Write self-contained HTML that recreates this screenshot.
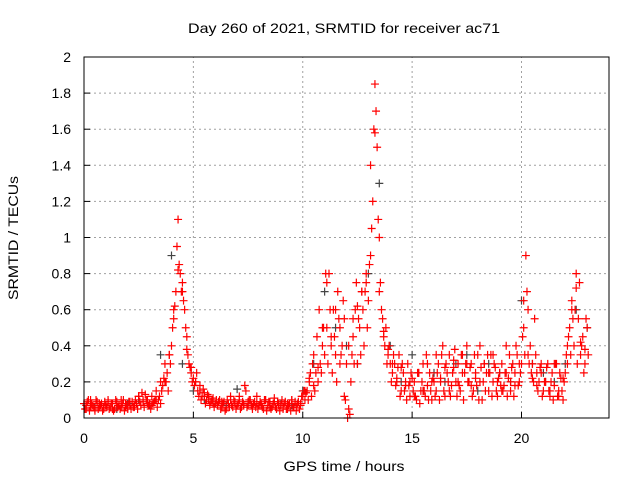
<!DOCTYPE html>
<html><head><meta charset="utf-8"><style>
body{margin:0;background:#fff;font-family:"Liberation Sans",sans-serif}
svg text{font-family:"Liberation Sans",sans-serif;font-size:14px;fill:#000}
</style></head><body>
<svg id="chart" width="640" height="480">
<text x="344" y="33" text-anchor="middle" textLength="312" lengthAdjust="spacingAndGlyphs">Day 260 of 2021, SRMTID for receiver ac71</text>
<text x="344" y="471" text-anchor="middle" textLength="121" lengthAdjust="spacingAndGlyphs">GPS time / hours</text>
<text transform="translate(18,238) rotate(-90)" text-anchor="middle" textLength="124" lengthAdjust="spacingAndGlyphs">SRMTID / TECUs</text>
<g id="grid"></g><g id="marks"></g>
<rect x="84" y="57" width="525" height="361" fill="none" stroke="#000"/>
</svg>
<script>
const xTicks=[0,5,10,15,20];
const yTicks=[0,0.2,0.4,0.6,0.8,1,1.2,1.4,1.6,1.8,2];
const yTickLabels=["0","0.2","0.4","0.6","0.8","1","1.2","1.4","1.6","1.8","2"];
const redA=[0.08,0.05,0.1,0.06,0.07,0.04,0.09,0.06,0.08,0.05,0.07,0.1,0.06,0.08,0.05,0.09,0.07,0.06,0.1,0.08,0.05,0.07,0.09,0.06,0.08,0.12,0.07,0.09,0.13,0.1,0.08,
0.12,0.09,0.15,0.1,0.2,0.18,0.3,0.25,0.35,0.4,
0.55,0.7,1.1,0.8,0.75,0.6,0.45,0.3,0.25,0.22,
0.2,0.15,0.18,0.12,0.14,0.1,0.12,0.09,0.11,0.08,
0.07,0.1,0.06,0.09,0.05,0.08,0.12,0.06,0.09,0.07,
0.1,0.06,0.08,0.15,0.07,0.1,0.05,0.09,0.12,0.07,
0.08,0.05,0.1,0.07,0.09,0.06,0.11,0.05,0.08,0.07,
0.06,0.09,0.05,0.08,0.1,0.06,0.04,0.09,0.07,0.12,
0.1,0.15,0.2,0.12,0.18,0.25,0.2,0.3,0.4,0.35,
0.5,0.8,0.45,0.6,0.35,0.7,0.5,0.4,0.55,0.3,
0.05,0.2,0.45,0.6,0.3,0.5,0.7,0.4,0.8,0.65,
0.9,1.2,1.85,1.5,1.0,0.6,0.45,0.5,0.35,0.3,
0.25,0.3,0.2,0.35,0.15,0.25,0.2,0.3,0.12,0.22,
0.2,0.1,0.25,0.15,0.3,0.12,0.18,0.25,0.1,0.2,
0.15,0.3,0.2,0.4,0.12,0.25,0.35,0.18,0.28,0.2,
0.3,0.15,0.35,0.25,0.4,0.2,0.3,0.15,0.25,0.35,
0.2,0.1,0.3,0.25,0.15,0.35,0.2,0.28,0.12,0.25,
0.3,0.18,0.4,0.22,0.15,0.3,0.25,0.35,0.2,0.3,
0.5,0.9,0.6,0.4,0.3,0.55,0.25,0.2,0.3,0.15,
0.2,0.3,0.12,0.25,0.18,0.3,0.15,0.22,0.1,0.25,
0.3,0.5,0.65,0.4,0.8,0.55,0.35,0.45,0.3,0.5];
const redB=[0.05,0.09,0.04,0.08,0.06,0.1,0.05,0.07,0.04,0.09,0.06,0.05,0.08,0.04,0.1,0.06,0.05,0.08,0.04,0.07,0.09,0.05,0.06,0.1,0.05,0.09,0.14,0.06,0.1,0.07,0.05,
0.08,0.1,0.06,0.12,0.15,0.22,0.2,0.15,0.3,0.5,
0.62,0.95,0.85,0.7,0.65,0.5,0.35,0.28,0.2,0.18,
0.25,0.12,0.1,0.16,0.08,0.13,0.07,0.1,0.06,0.1,
0.09,0.05,0.08,0.04,0.1,0.06,0.07,0.1,0.05,0.08,
0.05,0.09,0.18,0.06,0.1,0.07,0.08,0.06,0.05,0.09,
0.06,0.1,0.04,0.09,0.05,0.08,0.06,0.09,0.04,0.1,
0.08,0.05,0.07,0.04,0.06,0.09,0.08,0.05,0.12,0.15,
0.14,0.1,0.25,0.3,0.15,0.45,0.6,0.25,0.5,0.8,
0.3,0.6,0.25,0.45,0.2,0.55,0.35,0.65,0.1,0.0,
0.02,0.35,0.3,0.75,0.55,0.35,0.6,0.7,0.5,0.85,
1.05,1.6,1.7,1.1,0.75,0.55,0.4,0.3,0.4,0.2,
0.35,0.18,0.28,0.12,0.3,0.15,0.1,0.18,0.25,0.15,
0.12,0.25,0.08,0.2,0.15,0.35,0.1,0.15,0.22,0.12,
0.25,0.1,0.35,0.15,0.3,0.2,0.12,0.25,0.38,0.12,
0.18,0.35,0.1,0.3,0.2,0.28,0.12,0.35,0.18,0.1,
0.28,0.2,0.15,0.35,0.25,0.12,0.3,0.15,0.22,0.18,
0.15,0.25,0.12,0.35,0.28,0.12,0.4,0.18,0.25,0.45,
0.35,0.7,0.3,0.25,0.2,0.35,0.15,0.28,0.12,0.2,
0.28,0.15,0.2,0.1,0.3,0.12,0.25,0.15,0.2,0.35,
0.45,0.35,0.55,0.6,0.3,0.75,0.4,0.25,0.55,0.35];
const redC=[0.07,0.1,0.05,0.08,0.06,0.09,0.05,0.08,0.1,0.06,0.09,0.07,0.12,0.1,0.08,0.07,0.1,0.08,0.2,0.35,
0.6,0.82,0.7,0.38,0.28,0.2,0.15,0.12,0.1,0.08,0.07,0.09,0.06,0.1,0.08,0.12,0.07,0.09,0.06,0.08,
0.07,0.1,0.06,0.09,0.07,0.05,0.08,0.1,0.06,0.08,0.15,0.22,0.35,0.28,0.5,0.75,0.4,0.6,0.3,0.12,
0.4,0.55,0.62,0.7,0.75,1.4,1.58,0.7,0.48,0.38,0.3,0.22,0.28,0.18,0.2,0.12,0.25,0.15,0.3,0.2,
0.35,0.22,0.28,0.15,0.32,0.2,0.25,0.3,0.18,0.22,0.4,0.3,0.25,0.35,0.2,0.15,0.25,0.2,0.18,0.3,
0.65,0.35,0.22,0.18,0.25,0.2,0.15,0.3,0.12,0.22,0.4,0.6,0.72,0.42,0.38];
const grayVals=[0.08,0.06,0.07,0.05,0.08,0.1,0.07,0.35,0.9,0.3,0.15,0.1,0.08,0.07,0.16,0.08,0.07,0.06,0.08,0.07,0.15,0.3,0.7,0.5,0.4,0.3,0.8,1.3,0.4,0.2,0.35,0.15,0.25,0.2,0.3,0.35,0.15,0.3,0.25,0.2,0.65,0.3,0.25,0.2,0.3,0.6,0.5];
const x0=84,x1=609,y0=418,y1=57;
const sx=v=>x0+v/24*(x1-x0), sy=v=>y0-v/2*(y0-y1);
const NS="http://www.w3.org/2000/svg";
const grid=document.getElementById('grid'), marks=document.getElementById('marks');
function mk(t,a,p){const e=document.createElementNS(NS,t);for(const k in a)e.setAttribute(k,a[k]);p.appendChild(e);return e;}
xTicks.forEach((t,i)=>{const x=sx(t);
 if(t>0){const g=mk('line',{x1:x,x2:x,y1:y0,y2:y1,stroke:'#a0a0a0','stroke-dasharray':'2,3'},grid);
 
 }
 const tk=mk('line',{x1:x,x2:x,y1:y0,y2:y0-6,stroke:'#000'},grid);
 
 
 const l=mk('text',{x:x,y:443,'text-anchor':'middle'},grid);l.textContent=t;
 
 });
yTicks.forEach((t,i)=>{const y=sy(t);
 if(t>0&&t<2){const g=mk('line',{x1:x0,x2:x1,y1:y,y2:y,stroke:'#a0a0a0','stroke-dasharray':'2,3'},grid);
 
 }
 const tk=mk('line',{x1:x0,x2:x0+6,y1:y,y2:y,stroke:'#000'},grid);
 
 
 const l=mk('text',{x:71,y:y+5,'text-anchor':'end'},grid);l.textContent=yTickLabels[i];
 
 });
function plus(t,v,c,name){const x=sx(t),y=sy(v);
 const p=mk('path',{d:`M${x-4},${y}h8M${x},${y-4}v8`,stroke:c,'stroke-width':1.2},marks);
 
 }
grayVals.forEach((v,i)=>plus(i*0.5,v,'#444','gray-point'));
redA.forEach((v,i)=>plus(i*0.1,v,'#ff0000','red-point'));
redB.forEach((v,i)=>plus(i*0.1+0.05,v,'#ff0000','red-point'));
redC.forEach((v,i)=>plus(i*0.2+0.1,v,'#ff0000','red-point'));
</script>
</body></html>
